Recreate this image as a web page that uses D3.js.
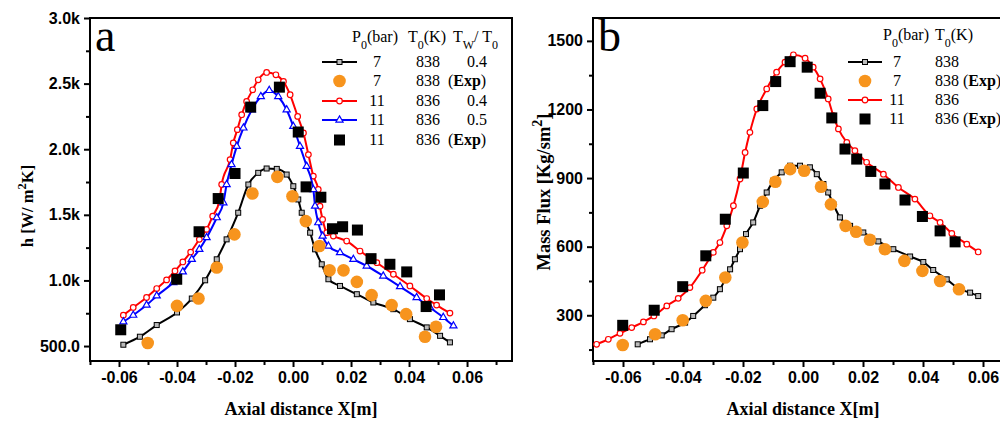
<!DOCTYPE html>
<html><head><meta charset="utf-8">
<script src="https://cdn.jsdelivr.net/npm/d3@7"></script>
<style>
body{margin:0;background:#fff;}
svg{display:block;}
</style></head>
<body>
<svg id="c" width="1000" height="421"></svg>
<script>
// ---------- Panel a data: heat transfer coefficient h ----------
const xA7Sim = [-0.0585,-0.0528,-0.047,-0.040,-0.0349,-0.0303,-0.0263,-0.0229,-0.0189,-0.0154,-0.012,-0.0091,-0.0056,-0.0022,0.0001,0.0018,0.003,0.0059,0.0076,0.0099,0.0122,0.0162,0.022,0.0277,0.0346,0.0403,0.0461,0.0507,0.0541];
const hA7Sim = [510,571,660,756,862,1001,1161,1313,1516,1731,1820,1853,1850,1807,1718,1617,1516,1364,1237,1123,1009,958,895,832,781,705,642,578,528];

const xA11Sim04 = [-0.0585,-0.0551,-0.0505,-0.047,-0.0436,-0.0407,-0.038,-0.0353,-0.0323,-0.0298,-0.0277,-0.0254,-0.0246,-0.0217,-0.0206,-0.0192,-0.0177,-0.016,-0.0139,-0.012,-0.0091,-0.0059,-0.0033,-0.001,0.0016,0.0036,0.0053,0.007,0.0087,0.0093,0.0102,0.0116,0.0139,0.0185,0.0231,0.0289,0.0346,0.0403,0.0461,0.0495,0.0541];
const hA11Sim04 = [735,794,870,938,1004,1072,1141,1216,1313,1389,1490,1604,1731,1921,2048,2149,2263,2364,2453,2529,2585,2567,2516,2415,2250,2124,1959,1795,1693,1566,1465,1364,1338,1300,1224,1135,1047,958,862,812,751];

const xA11Sim05 = [-0.0585,-0.0551,-0.0505,-0.047,-0.0413,-0.038,-0.0349,-0.0323,-0.0298,-0.0263,-0.024,-0.0229,-0.0212,-0.0194,-0.0171,-0.0142,-0.0111,-0.0082,-0.0051,-0.0022,0.0001,0.0024,0.0047,0.007,0.0076,0.0087,0.0102,0.0122,0.0162,0.0208,0.0254,0.0311,0.0369,0.0426,0.0472,0.0518,0.0553];
const hA11Sim05 = [685,735,812,882,984,1066,1161,1237,1326,1478,1592,1731,1883,2022,2162,2301,2402,2448,2402,2301,2174,2022,1870,1693,1566,1440,1338,1262,1212,1161,1110,1034,953,870,794,718,654];

const xA7Exp = [-0.0501,-0.040,-0.0326,-0.0263,-0.0202,-0.014,-0.0054,-0.0002,0.0044,0.0091,0.0126,0.0174,0.022,0.0271,0.034,0.039,0.0455,0.0493];
const hA7Exp = [523,806,862,1098,1351,1663,1789,1642,1452,1262,1077,1077,989,888,812,743,571,647];

const xA11Exp = [-0.0594,-0.0401,-0.0324,-0.0258,-0.02,-0.0146,-0.0047,0.0018,0.0045,0.0096,0.0136,0.0171,0.0222,0.0269,0.0334,0.0392,0.0459,0.0505];
const hA11Exp = [624,1009,1371,1624,1815,2321,2473,2131,1713,1634,1394,1409,1384,1166,1123,1065,801,890];

const xTicks = [-0.06,-0.04,-0.02,0.00,0.02,0.04,0.06];
const xTickLabels = ["-0.06","-0.04","-0.02","0.00","0.02","0.04","0.06"];
const hTicks = [500,1000,1500,2000,2500,3000];
const hTickLabels = ["500.0","1.0k","1.5k","2.0k","2.5k","3.0k"];

// ---------- Panel b data: mass flux ----------
const xB7Sim = [-0.0551,-0.051,-0.0471,-0.0438,-0.0393,-0.0366,-0.0327,-0.0299,-0.0277,-0.0243,-0.0227,-0.021,-0.019,-0.0166,-0.0143,-0.0121,-0.0099,-0.0071,-0.0043,-0.001,0.0023,0.0046,0.0068,0.0084,0.0101,0.0123,0.0157,0.0201,0.0251,0.0301,0.0357,0.0401,0.0434,0.0479,0.0523,0.0557,0.0584];
const mB7Sim = [173,195,212,239,268,297,344,377,414,501,545,589,655,706,779,837,888,925,954,954,947,917,874,837,786,728,691,662,623,589,557,533,498,457,414,399,384];

const xB11Sim = [-0.0688,-0.0649,-0.061,-0.0571,-0.0532,-0.0497,-0.0454,-0.0416,-0.0377,-0.0336,-0.0299,-0.0277,-0.0254,-0.0232,-0.021,-0.0193,-0.0177,-0.0154,-0.0121,-0.0088,-0.006,-0.0032,0.0007,0.0034,0.0057,0.0084,0.0101,0.0118,0.0146,0.0173,0.0212,0.0268,0.0318,0.0373,0.0423,0.0457,0.0496,0.0546,0.0584];
const mB11Sim = [173,195,221,246,271,297,341,374,421,497,575,618,691,779,896,1012,1100,1202,1290,1363,1407,1439,1424,1385,1334,1246,1173,1115,1056,1020,969,917,859,808,735,706,658,611,577];

const xB7Exp = [-0.0601,-0.0493,-0.0401,-0.0324,-0.0259,-0.0202,-0.0134,-0.0092,-0.0043,0.0004,0.006,0.0093,0.0142,0.0177,0.0223,0.0273,0.0338,0.0398,0.0457,0.052];
const mB7Exp = [170,217,278,363,465,618,796,884,939,932,862,785,691,665,630,589,538,494,450,414];

const xB11Exp = [-0.0601,-0.0496,-0.0401,-0.0324,-0.0259,-0.0199,-0.0134,-0.0091,-0.0043,0.0014,0.0057,0.0096,0.014,0.0179,0.0226,0.0273,0.034,0.0398,0.0457,0.0507];
const mB11Exp = [256,322,425,560,720,922,1217,1322,1409,1385,1271,1163,1027,983,929,874,804,732,669,621];

const mTicks = [300,600,900,1200,1500];
const mTickLabels = ["300","600","900","1200","1500"];

const ORANGE = "#F7941D";
const svg = d3.select("#c");
const SERIF = "'Liberation Serif','Times New Roman',serif";
const SANS = "'Liberation Sans',Arial,sans-serif";

function zip(xs, ys){ return xs.map((x,i)=>[x, ys[i]]); }

function panel(opt){
  const x = d3.scaleLinear().domain(opt.xDom).range([opt.L, opt.R]);
  const y = d3.scaleLinear().domain(opt.yDom).range([opt.B, opt.T]);
  const g = svg.append("g");

  const xMinor = d3.range(-7, 8).filter(v => Math.abs(v) % 2 === 1).map(v => v/100);
  const xAxis = d3.axisBottom(x).tickValues(opt.xTicks).tickFormat((d,i)=>opt.xLabels[i]).tickSize(6).tickPadding(5);
  const xAxisMinor = d3.axisBottom(x).tickValues(xMinor).tickFormat("").tickSize(4);
  const yAxis = d3.axisLeft(y).tickValues(opt.yTicks).tickFormat((d,i)=>opt.yLabels[i]).tickSize(6).tickPadding(4);
  const yAxisMinor = d3.axisLeft(y).tickValues(opt.yMinor).tickFormat("").tickSize(4);

  [xAxis, xAxisMinor].forEach(a=>{
    g.append("g").attr("transform",`translate(0,${opt.B})`).call(a);
  });
  [yAxis, yAxisMinor].forEach(a=>{
    g.append("g").attr("transform",`translate(${opt.L},0)`).call(a);
  });
  g.selectAll(".domain").remove();
  g.selectAll(".tick line").attr("stroke","#000").attr("stroke-width",2);
  g.selectAll(".tick text").attr("font-family",SANS).attr("font-weight","bold").attr("font-size",16).attr("fill","#000");

  g.append("rect").attr("x",opt.L).attr("y",opt.T).attr("width",opt.R-opt.L).attr("height",opt.B-opt.T)
    .attr("fill","none").attr("stroke","#000").attr("stroke-width",2);

  const pg = g.append("g");
  const line = d3.line().x(d=>x(d[0])).y(d=>y(d[1])).curve(d3.curveMonotoneX);

  opt.sims.forEach(s=>{
    const data = zip(s.xs, s.ys);
    pg.append("path").datum(data).attr("d",line).attr("fill","none").attr("stroke",s.color).attr("stroke-width",2);
    drawMarkers(pg, data.map(d=>[x(d[0]),y(d[1])]), s.marker, s.color);
  });
  opt.exps.forEach(s=>{
    const data = zip(s.xs, s.ys);
    drawMarkers(pg, data.map(d=>[x(d[0]),y(d[1])]), s.marker, s.color);
  });

  g.append("text").attr("x",opt.L+5).attr("y",opt.T+33).attr("font-family",SERIF).attr("font-size",46).text(opt.letter);

  g.append("text").attr("x",opt.xTitleX).attr("y",415).attr("text-anchor","middle")
    .attr("font-family",SERIF).attr("font-weight","bold").attr("font-size",18).text("Axial distance X[m]");
  const yt = g.append("text").attr("transform",`translate(${opt.yTitleX},${opt.yTitleY}) rotate(-90)`)
    .attr("text-anchor","middle").attr("font-family",SERIF).attr("font-weight","bold").attr("font-size",opt.yTitleSize);
  opt.yTitle.forEach(p=>{
    const t = yt.append("tspan").text(p.t);
    if(p.sup) t.attr("baseline-shift","super").attr("font-size",opt.yTitleSize*0.76);
  });
  return {x,y,g};
}

function drawMarkers(g, pts, kind, color){
  if(kind==="sqSmall"){
    g.selectAll(null).data(pts).enter().append("rect")
      .attr("x",d=>d[0]-2.5).attr("y",d=>d[1]-2.5).attr("width",5).attr("height",5)
      .attr("fill","#bbb").attr("stroke",color).attr("stroke-width",1);
  } else if(kind==="circSmall"){
    g.selectAll(null).data(pts).enter().append("circle")
      .attr("cx",d=>d[0]).attr("cy",d=>d[1]).attr("r",2.8)
      .attr("fill","#fff").attr("stroke",color).attr("stroke-width",1.2);
  } else if(kind==="triSmall"){
    const sym = d3.symbol().type(d3.symbolTriangle).size(22);
    g.selectAll(null).data(pts).enter().append("path")
      .attr("d",sym).attr("transform",d=>`translate(${d[0]},${d[1]})`)
      .attr("fill","#fff").attr("stroke",color).attr("stroke-width",1.2);
  } else if(kind==="circBig"){
    g.selectAll(null).data(pts).enter().append("circle")
      .attr("cx",d=>d[0]).attr("cy",d=>d[1]).attr("r",6.3).attr("fill",color);
  } else if(kind==="sqBig"){
    g.selectAll(null).data(pts).enter().append("rect")
      .attr("x",d=>d[0]-5.5).attr("y",d=>d[1]-5.5).attr("width",11).attr("height",11).attr("fill",color);
  }
}

function legend(rows, header, cfg){
  const g = svg.append("g").attr("font-family",SERIF).attr("font-size",16).attr("fill","#000");
  header.forEach(h=>{
    const t = g.append("text").attr("x",h.x).attr("y",cfg.headY);
    h.parts.forEach(p=>{
      const s = t.append("tspan").text(p.t);
      if(p.sub) s.attr("baseline-shift","sub").attr("font-size",12);
    });
  });
  rows.forEach((r,i)=>{
    const yy = cfg.rowY[i];
    if(r.line){
      g.append("line").attr("x1",cfg.lx1).attr("x2",cfg.lx2).attr("y1",yy).attr("y2",yy).attr("stroke",r.color).attr("stroke-width",2);
    }
    drawMarkers(g, [[(cfg.lx1+cfg.lx2)/2, yy]], r.marker, r.color);
    r.cols.forEach((c,j)=>{
      const isExp = c==="(Exp)";
      const cx = isExp ? cfg.expX : cfg.colX[j];
      const t = g.append("text").attr("x",cx).attr("y",yy+5).attr("text-anchor","middle");
      if(isExp){
        t.append("tspan").text("(");
        t.append("tspan").attr("font-weight","bold").text("Exp");
        t.append("tspan").text(")");
      } else t.text(c);
    });
  });
}

// ---------- Panel a ----------
panel({
  L:90, R:512, T:18, B:361,
  xDom:[-0.07,0.0755], yDom:[386,3000],
  xTicks, xLabels:xTickLabels, yTicks:hTicks, yLabels:hTickLabels,
  yMinor:[750,1250,1750,2250,2750],
  sims:[
    {xs:xA7Sim, ys:hA7Sim, color:"#000", marker:"sqSmall"},
    {xs:xA11Sim04, ys:hA11Sim04, color:"#f00", marker:"circSmall"},
    {xs:xA11Sim05, ys:hA11Sim05, color:"#00f", marker:"triSmall"}
  ],
  exps:[
    {xs:xA7Exp, ys:hA7Exp, color:ORANGE, marker:"circBig"},
    {xs:xA11Exp, ys:hA11Exp, color:"#000", marker:"sqBig"}
  ],
  letter:"a", xTitleX:301, yTitleX:33, yTitleY:206, yTitleSize:16.5,
  yTitle:[{t:"h [W/ m"},{t:"2",sup:true},{t:"K]"}]
});

legend([
  {line:true, color:"#000", marker:"sqSmall", cols:["7","838","0.4"]},
  {line:false, color:ORANGE, marker:"circBig", cols:["7","838","(Exp)"]},
  {line:true, color:"#f00", marker:"circSmall", cols:["11","836","0.4"]},
  {line:true, color:"#00f", marker:"triSmall", cols:["11","836","0.5"]},
  {line:false, color:"#000", marker:"sqBig", cols:["11","836","(Exp)"]}
],[
  {x:352, parts:[{t:"P"},{t:"0",sub:true},{t:"(bar)"}]},
  {x:408, parts:[{t:"T"},{t:"0",sub:true},{t:"(K)"}]},
  {x:453, parts:[{t:"T"},{t:"W",sub:true},{t:"/ T"},{t:"0",sub:true}]}
],{headY:42, rowY:[62,81,101,120,140], lx1:322, lx2:357, colX:[377,428,477], expX:467});

// ---------- Panel b ----------
panel({
  L:593, R:1028, T:18, B:361,
  xDom:[-0.07,0.075], yDom:[100,1600],
  xTicks, xLabels:xTickLabels, yTicks:mTicks, yLabels:mTickLabels,
  yMinor:[150,450,750,1050,1350],
  sims:[
    {xs:xB7Sim, ys:mB7Sim, color:"#000", marker:"sqSmall"},
    {xs:xB11Sim, ys:mB11Sim, color:"#f00", marker:"circSmall"}
  ],
  exps:[
    {xs:xB7Exp, ys:mB7Exp, color:ORANGE, marker:"circBig"},
    {xs:xB11Exp, ys:mB11Exp, color:"#000", marker:"sqBig"}
  ],
  letter:"b", xTitleX:803, yTitleX:550, yTitleY:192, yTitleSize:18.5,
  yTitle:[{t:"Mass Flux [Kg/sm"},{t:"2",sup:true},{t:"]"}]
});

legend([
  {line:true, color:"#000", marker:"sqSmall", cols:["7","838"]},
  {line:false, color:ORANGE, marker:"circBig", cols:["7","838","(Exp)"]},
  {line:true, color:"#f00", marker:"circSmall", cols:["11","836"]},
  {line:false, color:"#000", marker:"sqBig", cols:["11","836","(Exp)"]}
],[
  {x:883, parts:[{t:"P"},{t:"0",sub:true},{t:"(bar)"}]},
  {x:935, parts:[{t:"T"},{t:"0",sub:true},{t:"(K)"}]}
],{headY:40, rowY:[62,81,100,119], lx1:848, lx2:882, colX:[897,947], expX:982});
</script>
</body></html>
